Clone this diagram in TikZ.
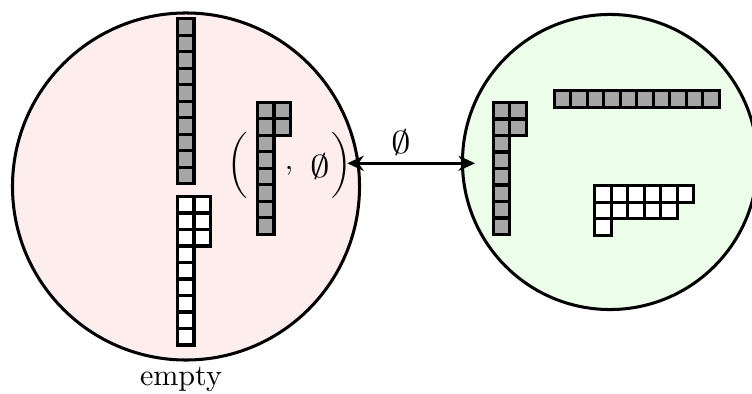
\documentclass[tikz,border=0pt]{standalone}
\usetikzlibrary{arrows.meta}
\definecolor{pinkbg}{RGB}{253,237,237}
\definecolor{greenbg}{RGB}{236,253,234}
\definecolor{cellgray}{RGB}{166,166,166}
\tikzset{
  cellbox/.style={draw=black, line width=1.1pt},
  bubble/.style={draw=black, line width=1.1pt, circle, inner sep=0pt},
  txt/.style={inner sep=0pt, font=\fontsize{10.95}{13.6}\selectfont},
}
\newcommand{\wideempty}{\scalebox{1.3}[1.05]{$\emptyset$}}
% #1 x, #2 y (top-left), #3 fill, #4 list of row lengths
\newcommand{\youngd}[4]{%
  \foreach \r [count=\i from 0] in {#4} {
    \foreach \c in {1,...,\r} {
      \draw[cellbox, fill=#3] ({#1+(\c-1)*16.5}, {#2+\i*16.5}) rectangle ++(16.5,16.5);
    }
  }
}
\begin{document}
\begin{tikzpicture}[x=0.36364pt, y=-0.36364pt]
\useasboundingbox (0,0) rectangle (752,394);
% bubbles
\node[bubble, fill=pinkbg, minimum size=126.2pt] (L) at (186,186.5) {};
\node[bubble, fill=greenbg, minimum size=107.3pt] (R) at (610,162) {};
% left bubble contents
\youngd{177.5}{18.8}{cellgray}{1,1,1,1,1,1,1,1,1,1}
\youngd{177.5}{196.5}{white}{2,2,2,1,1,1,1,1,1}
\youngd{257.5}{102.2}{cellgray}{2,2,1,1,1,1,1,1}
\node[txt] (lp) at (237.5,165) {$\bigg($};
\node[txt] (rp) at (341.5,165) {$\bigg)$};
\node[txt] (cm) at (289,171) {$,$};
\node[txt] (es) at (320,167) {\wideempty};
% right bubble contents
\youngd{493.2}{102.5}{cellgray}{2,2,1,1,1,1,1,1}
\youngd{554.2}{90.8}{cellgray}{10}
\youngd{594.8}{185.8}{white}{6,5,1}
% arrow
\coordinate (a1) at (347.3,163.3);
\coordinate (a2) at (475,163.3);
\draw[line width=1.1pt, {Stealth[length=6pt,width=5.5pt]}-{Stealth[length=6pt,width=5.5pt]}] (a1) -- (a2);
\node[txt] (al) at (401,142.5) {\wideempty};
% label
\node[txt] (lab) at (181,379) {empty};
\end{tikzpicture}
\end{document}
